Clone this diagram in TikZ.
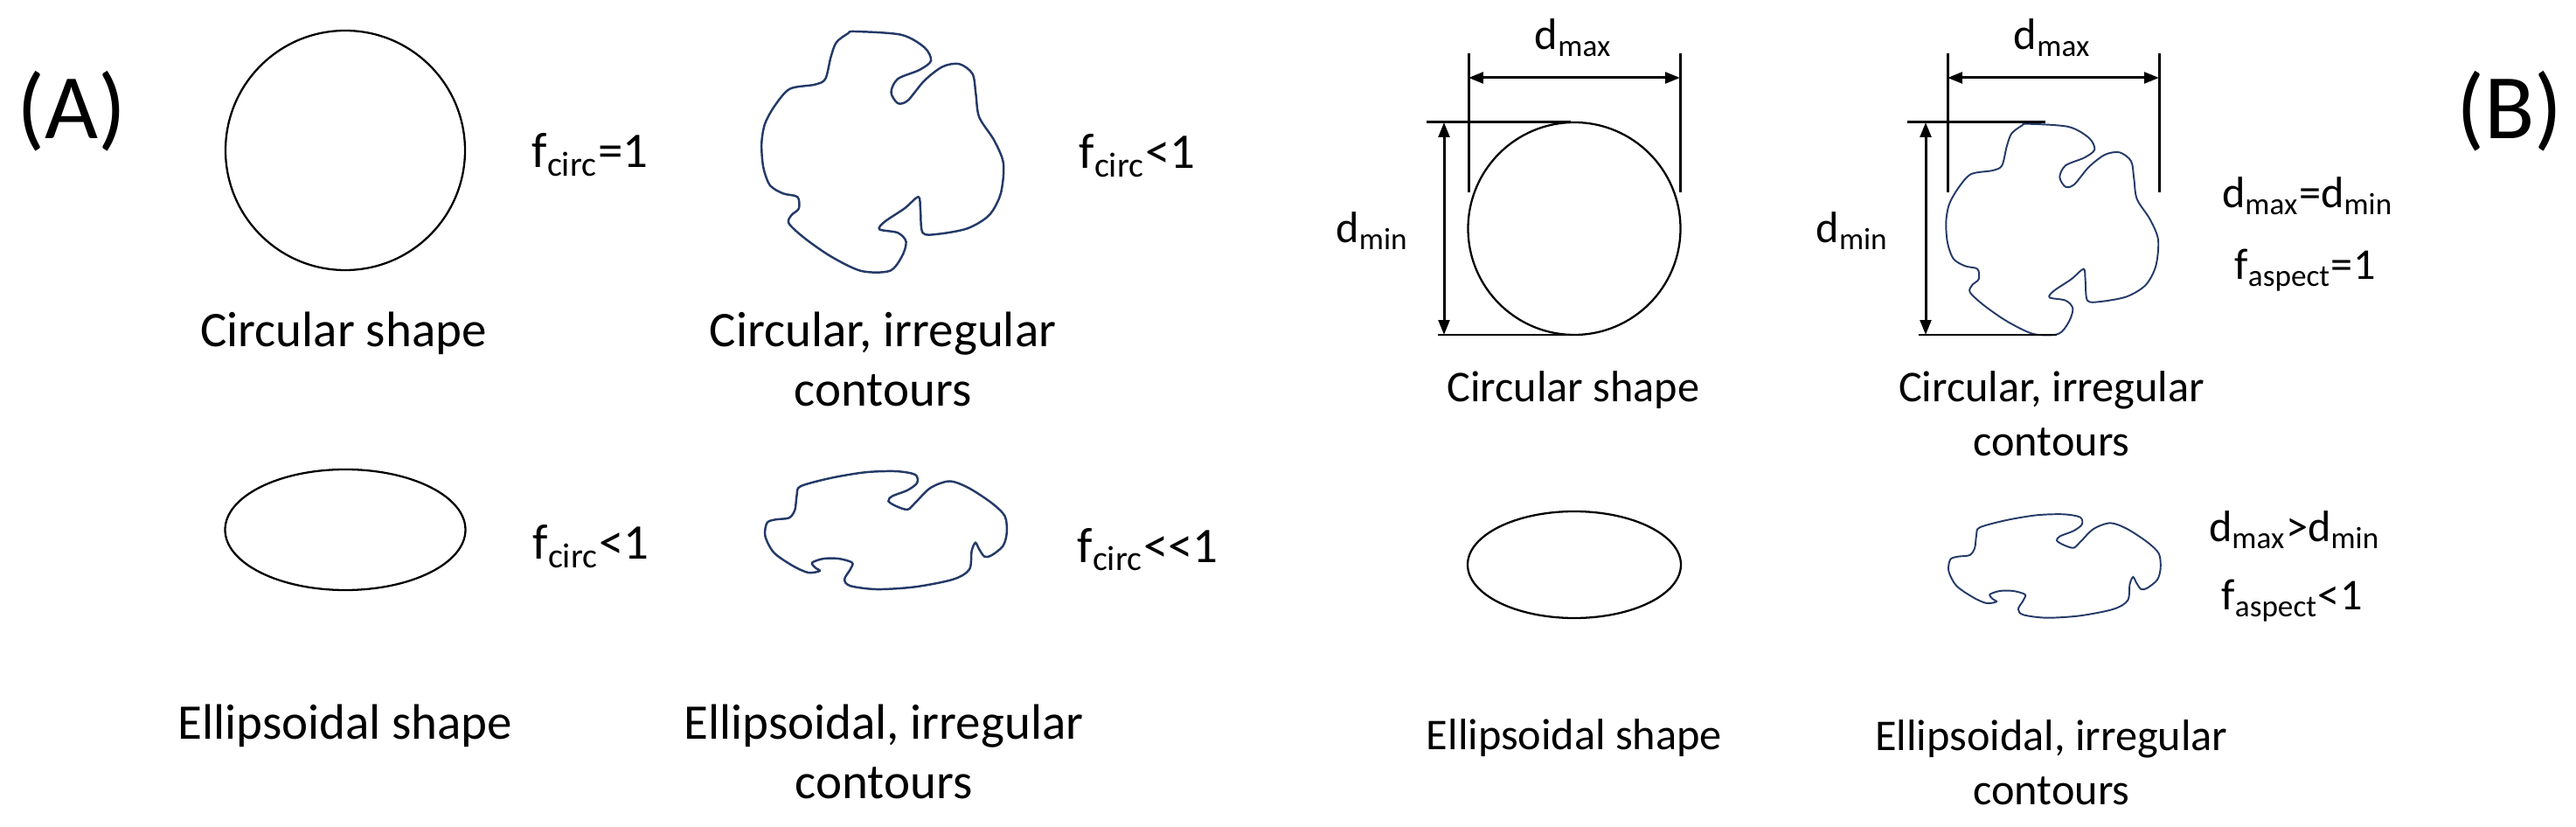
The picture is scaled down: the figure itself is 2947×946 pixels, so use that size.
\documentclass[tikz,border=0pt]{standalone}
\usepackage{fontspec}
\setmainfont{Carlito}
\usetikzlibrary{arrows.meta}
\definecolor{blobcol}{RGB}{36,58,104}
\newcommand{\lowr}[1]{\textsubscript{#1}}
\begin{document}
\begin{tikzpicture}[x=0.01cm, y=-0.01cm,
  txtA/.style={font=\fontsize{16.2}{19.4}\selectfont, inner sep=0, anchor=base},
  txtB/.style={font=\fontsize{14.3}{17.6}\selectfont, inner sep=0, anchor=base},
  panel/.style={font=\fontsize{30}{36}\selectfont, inner sep=0, anchor=base},
  shapeline/.style={draw=black, line width=0.65pt},
  blob/.style={draw=blobcol, line width=0.7pt},
  dimline/.style={draw=black, line width=0.85pt},
  dimarrow/.style={dimline, {Triangle[length=4.8pt,width=3.6pt]}-{Triangle[length=4.8pt,width=3.6pt]}}
]
\useasboundingbox (0,0) rectangle (2947,946);

% ---------------- Panel A ----------------
\node[panel] (labA) at (82,159) {(A)};

\draw[shapeline] (395,172) circle[radius=137];
\node[txtA, anchor=base west] (fA1) at (608,192) {f\lowr{circ}=1};
\node[txtA] (tA1) at (393,397) {Circular shape};

\begin{scope}[shift={(1010,172)}, scale=1.14]
\draw[blob] plot[smooth cycle, tension=0.5] coordinates {
(-28.3,-119.3) (18.3,-116) (41.7,-103.3) (48.3,-90) (36.7,-80.7) (15,-71.7) (8.3,-58.3) (15,-47.3) (25,-50) (41.7,-70) (60,-84) (76.7,-86.7) (90,-76.7) (93.3,-56.7) (96.7,-33.3) (111.7,-10) (121,13.3) (118.3,43.3) (106.7,65) (85,78.3) (55,84) (40,82.7) (37.7,60) (35.7,46.7) (21.7,58.3) (1.7,71.7) (-3.3,79.3) (15,82.7) (23.3,91.7) (19,106.7) (6.7,121) (-21.7,121) (-51.7,106.7) (-78.3,88.3) (-94.3,73.3) (-91.7,65) (-84.3,58.3) (-85.7,46.7) (-100,43.3) (-113.3,35) (-120,16.7) (-121.7,-6.7) (-118.3,-26.7) (-108.3,-45) (-93.3,-61.7) (-68.3,-66) (-57.7,-71.7) (-52.3,-93.3) (-46.7,-108.3) (-35,-117.3)};
\end{scope}
\node[txtA, anchor=base west] (fA2) at (1234,193) {f\lowr{circ}<1};
\node[txtA] (tA2a) at (1010,397) {Circular, irregular};
\node[txtA] (tA2b) at (1010,465) {contours};

\draw[shapeline] (395,606) ellipse[x radius=137.5, y radius=69];
\node[txtA, anchor=base west] (fA3) at (609,640) {f\lowr{circ}<1};
\node[txtA] (tA3) at (395,845) {Ellipsoidal shape};

\begin{scope}[shift={(1013,606)}, scale=1.14]
\draw[blob] plot[smooth cycle, tension=0.5] coordinates {
(-85.1,-43.7) (-54.5,-52) (-20,-57.7) (10.7,-58.7) (29.8,-55.3) (31.7,-47) (22.1,-39.7) (6.8,-33.7) (3,-28.7) (10.7,-23.7) (22.1,-20.3) (29.8,-27) (45.1,-42) (64.3,-48.7) (83.4,-42) (106.4,-27) (119.8,-13.7) (121.7,3) (117.9,16.3) (106.4,25.7) (99.5,27) (94.1,19.7) (90.3,13) (86.5,21.3) (84.2,39.7) (68.1,49.7) (29.8,57.3) (-8.5,59.7) (-35.3,56.3) (-41.1,49.7) (-35.3,39.7) (-33.4,33) (-46.8,29) (-62.1,29) (-73.6,33) (-70.5,38) (-66,41.3) (-77.4,43) (-92.8,36.3) (-111.9,23) (-120.7,6.3) (-118.8,-7) (-110,-10.3) (-96.6,-12) (-90.8,-20.3) (-88.9,-35.3)};
\end{scope}
\node[txtA, anchor=base west] (fA4) at (1232,643) {f\lowr{circ}<{}<{}1};
\node[txtA] (tA4a) at (1011,845) {Ellipsoidal, irregular};
\node[txtA] (tA4b) at (1011,913) {contours};

% ---------------- Panel B ----------------
\node[panel] (labB) at (2871,159) {(B)};

% circle with dimensions
\draw[shapeline] (1801,261.5) circle[radius=121.5];
\coordinate (b1el1) at (1680,61);  \coordinate (b1el2) at (1680,220);
\coordinate (b1er1) at (1922,61);  \coordinate (b1er2) at (1922,220);
\coordinate (b1da) at (1680,89);   \coordinate (b1db) at (1922,89);
\coordinate (b1t1) at (1632,140);  \coordinate (b1t2) at (1797,140);
\coordinate (b1b1) at (1645,383);  \coordinate (b1b2) at (1806,383);
\coordinate (b1va) at (1652,140);  \coordinate (b1vb) at (1652,383);
\draw[dimline] (b1el1) -- (b1el2);
\draw[dimline] (b1er1) -- (b1er2);
\draw[dimarrow] (b1da) -- (b1db);
\draw[dimline] (b1t1) -- (b1t2);
\draw[dimline] (b1b1) -- (b1b2);
\draw[dimarrow] (b1va) -- (b1vb);
\node[txtB] (dmaxB1) at (1800,57) {d\lowr{max}};
\node[txtB] (dminB1) at (1570,278) {d\lowr{min}};
\node[txtB] (tB1) at (1800,460) {Circular shape};

% irregular circle with dimensions
\begin{scope}[shift={(2348,261)}]
\draw[blob, line width=0.55pt] plot[smooth cycle, tension=0.5] coordinates {
(-28.3,-119.3) (18.3,-116) (41.7,-103.3) (48.3,-90) (36.7,-80.7) (15,-71.7) (8.3,-58.3) (15,-47.3) (25,-50) (41.7,-70) (60,-84) (76.7,-86.7) (90,-76.7) (93.3,-56.7) (96.7,-33.3) (111.7,-10) (121,13.3) (118.3,43.3) (106.7,65) (85,78.3) (55,84) (40,82.7) (37.7,60) (35.7,46.7) (21.7,58.3) (1.7,71.7) (-3.3,79.3) (15,82.7) (23.3,91.7) (19,106.7) (6.7,121) (-21.7,121) (-51.7,106.7) (-78.3,88.3) (-94.3,73.3) (-91.7,65) (-84.3,58.3) (-85.7,46.7) (-100,43.3) (-113.3,35) (-120,16.7) (-121.7,-6.7) (-118.3,-26.7) (-108.3,-45) (-93.3,-61.7) (-68.3,-66) (-57.7,-71.7) (-52.3,-93.3) (-46.7,-108.3) (-35,-117.3)};
\end{scope}
\coordinate (b2el1) at (2228,61);  \coordinate (b2el2) at (2228,220);
\coordinate (b2er1) at (2470,61);  \coordinate (b2er2) at (2470,220);
\coordinate (b2da) at (2228,89);   \coordinate (b2db) at (2470,89);
\coordinate (b2t1) at (2182,140);  \coordinate (b2t2) at (2340,140);
\coordinate (b2b1) at (2195,383);  \coordinate (b2b2) at (2353,383);
\coordinate (b2va) at (2203,140);  \coordinate (b2vb) at (2203,383);
\draw[dimline] (b2el1) -- (b2el2);
\draw[dimline] (b2er1) -- (b2er2);
\draw[dimarrow] (b2da) -- (b2db);
\draw[dimline] (b2t1) -- (b2t2);
\draw[dimline] (b2b1) -- (b2b2);
\draw[dimarrow] (b2va) -- (b2vb);
\node[txtB] (dmaxB2) at (2348,57) {d\lowr{max}};
\node[txtB] (dminB2) at (2119,278) {d\lowr{min}};
\node[txtB] (eqB2) at (2640,238) {d\lowr{max}=d\lowr{min}};
\node[txtB] (faB2) at (2637,320) {f\lowr{aspect}=1};
\node[txtB] (tB2a) at (2347,460) {Circular, irregular};
\node[txtB] (tB2b) at (2347,522) {contours};

% ellipse
\draw[shapeline] (1801,646) ellipse[x radius=122, y radius=61];
\node[txtB] (tB3) at (1801,857) {Ellipsoidal shape};

% irregular ellipse
\begin{scope}[shift={(2350,647)}]
\draw[blob, line width=0.55pt] plot[smooth cycle, tension=0.5] coordinates {
(-85.1,-43.7) (-54.5,-52) (-20,-57.7) (10.7,-58.7) (29.8,-55.3) (31.7,-47) (22.1,-39.7) (6.8,-33.7) (3,-28.7) (10.7,-23.7) (22.1,-20.3) (29.8,-27) (45.1,-42) (64.3,-48.7) (83.4,-42) (106.4,-27) (119.8,-13.7) (121.7,3) (117.9,16.3) (106.4,25.7) (99.5,27) (94.1,19.7) (90.3,13) (86.5,21.3) (84.2,39.7) (68.1,49.7) (29.8,57.3) (-8.5,59.7) (-35.3,56.3) (-41.1,49.7) (-35.3,39.7) (-33.4,33) (-46.8,29) (-62.1,29) (-73.6,33) (-70.5,38) (-66,41.3) (-77.4,43) (-92.8,36.3) (-111.9,23) (-120.7,6.3) (-118.8,-7) (-110,-10.3) (-96.6,-12) (-90.8,-20.3) (-88.9,-35.3)};
\end{scope}
\node[txtB] (gtB4) at (2625,620) {d\lowr{max}>d\lowr{min}};
\node[txtB] (faB4) at (2622,698) {f\lowr{aspect}<1};
\node[txtB] (tB4a) at (2347,858) {Ellipsoidal, irregular};
\node[txtB] (tB4b) at (2347,920) {contours};
\end{tikzpicture}
\end{document}
